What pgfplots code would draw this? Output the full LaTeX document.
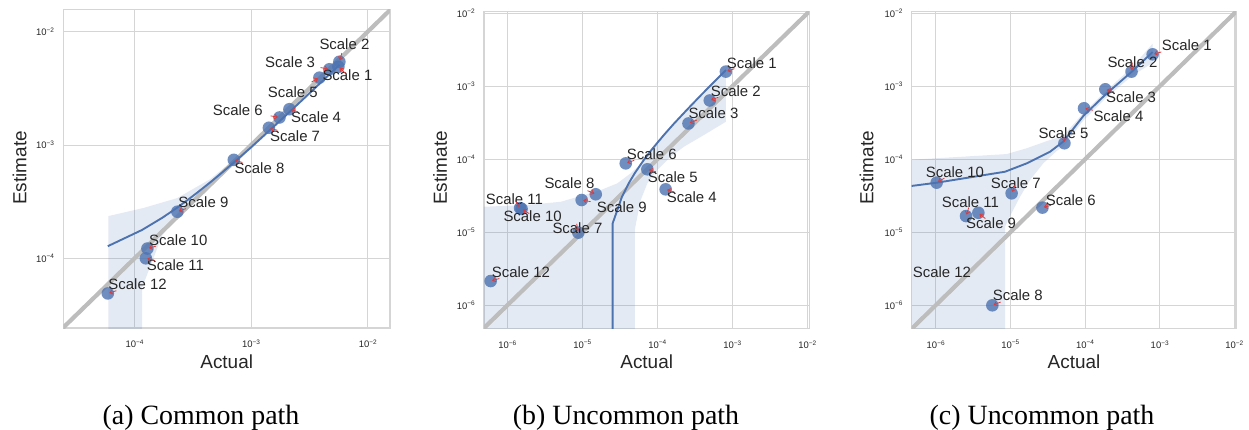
\documentclass[border=0pt]{standalone}
\usepackage{pgfplots}
\pgfplotsset{compat=1.18}
\usepackage{fontspec}
\setmainfont{Liberation Sans}
\newfontfamily\capfont{Liberation Serif}
\usetikzlibrary{calc,arrows.meta}

\definecolor{sbblue}{HTML}{4C72B0}
\definecolor{gridc}{HTML}{D5D5D5}
\definecolor{diagc}{HTML}{BDBDBD}
\definecolor{txtc}{HTML}{262626}
\definecolor{arrc}{HTML}{DD3B3B}

% tick label: 10 with a raised exponent, set as text in the sans font
\newcommand\tl[1]{\mbox{\fontsize{9.5}{9.5}\selectfont 10\raisebox{0.62ex}{\fontsize{6.5}{6.5}\selectfont −#1}}}

\pgfplotsset{
  every axis/.append style={
    xmode=log, ymode=log, scale only axis, anchor=south west,
    axis line style={draw=gridc, line width=1.2bp},
    grid=major, major grid style={draw=gridc, line width=1bp},
    major tick length=0pt, minor tick length=0pt,
    xticklabel style={anchor=north, inner sep=0pt, yshift=-12bp, text=txtc},
    yticklabel style={anchor=east, inner sep=0pt, xshift=-9bp, text=txtc},
  },
  sbband/.style={draw=none, fill=sbblue, fill opacity=0.15},
  sbdiag/.style={draw=diagc, line width=4.2bp, mark=none},
  sbdots/.style={only marks, mark=*, mark size=6.3bp, color=sbblue,
    mark options={fill=sbblue, draw opacity=0, fill opacity=0.8}},
  sbfit/.style={draw=sbblue, line width=1.9bp, mark=none},
}

\tikzset{
  lbl/.style={anchor=west, inner sep=0pt, text=txtc, font=\fontsize{15}{15}\selectfont},
  arrsty/.style={draw=arrc, line width=0.8bp, -{Straight Barb[length=2.8bp,width=4.4bp]}},
}
\newcommand\lab[4]{\node[lbl] (#1) at (#2,#3) {#4};}
\newcommand\arr[2]{\draw[arrsty] ($(#1)!9bp!(#2.center)$) -- ($(#1)!1.5bp!(#2.center)$);}

\begin{document}
\begin{tikzpicture}
\path[use as bounding box] (0,0) rectangle (1249bp,-430bp);

% ---------------- (a) Common path ----------------
\begin{axis}[at={(63.3bp,-328bp)}, width=326.7bp, height=318.5bp,
  xmin=2.449e-5, xmax=1.552e-2, ymin=2.427e-5, ymax=1.570e-2,
  xtick={1e-4,1e-3,1e-2}, ytick={1e-4,1e-3,1e-2},
  xticklabels={\tl{4},\tl{3},\tl{2}}, yticklabels={\tl{4},\tl{3},\tl{2}}]
\addplot[sbband] coordinates {
  (5.96e-5,2.36e-4) (1.19e-4,2.78e-4) (2.32e-4,3.40e-4) (4.46e-4,5.0e-4)
  (6.61e-4,6.95e-4) (1e-3,1.0e-3) (2e-3,1.9e-3) (4e-3,3.75e-3) (5.71e-3,5.4e-3)
  (5.71e-3,4.85e-3) (4e-3,3.47e-3) (2e-3,1.79e-3) (1e-3,9.25e-4) (6.61e-4,6.35e-4)
  (4.46e-4,4.4e-4) (3.0e-4,2.95e-4) (2.32e-4,2.3e-4) (1.73e-4,1.6e-4)
  (1.16e-4,5.5e-5) (1.16e-4,1e-6) (5.96e-5,1e-6)};
\addplot[sbdiag] coordinates {(1e-5,1e-5) (1e-1,1e-1)};
\addplot[sbdots] coordinates {
  (5.6e-3,4.9e-3) (5.71e-3,5.43e-3) (4.69e-3,4.66e-3) (2.13e-3,2.07e-3)
  (3.85e-3,3.93e-3) (1.75e-3,1.75e-3) (1.42e-3,1.42e-3) (7.1e-4,7.4e-4)
  (2.33e-4,2.58e-4) (1.29e-4,1.22e-4) (1.25e-4,1.0e-4) (5.9e-5,4.9e-5)};
\addplot[sbfit] coordinates {
  (5.9e-5,1.28e-4) (1.16e-4,1.78e-4) (1.73e-4,2.28e-4) (2.30e-4,2.78e-4)
  (2.87e-4,3.29e-4) (3.44e-4,3.79e-4) (4.58e-4,4.79e-4) (5.72e-4,5.79e-4)
  (7.43e-4,7.30e-4) (1.0e-3,9.56e-4) (1.5e-3,1.40e-3) (2.0e-3,1.84e-3)
  (3.0e-3,2.72e-3) (4.0e-3,3.60e-3) (5.71e-3,5.10e-3)};
\coordinate (a1) at (axis cs:5.6e-3,4.9e-3);
\coordinate (a2) at (axis cs:5.71e-3,5.43e-3);
\coordinate (a3) at (axis cs:4.69e-3,4.66e-3);
\coordinate (a4) at (axis cs:2.13e-3,2.07e-3);
\coordinate (a5) at (axis cs:3.85e-3,3.93e-3);
\coordinate (a6) at (axis cs:1.75e-3,1.75e-3);
\coordinate (a7) at (axis cs:1.42e-3,1.42e-3);
\coordinate (a8) at (axis cs:7.1e-4,7.4e-4);
\coordinate (a9) at (axis cs:2.33e-4,2.58e-4);
\coordinate (a10) at (axis cs:1.29e-4,1.22e-4);
\coordinate (a11) at (axis cs:1.25e-4,1.0e-4);
\coordinate (a12) at (axis cs:5.9e-5,4.9e-5);
\end{axis}

% ---------------- (b) Uncommon path ----------------
\begin{axis}[at={(484bp,-328.3bp)}, width=325.3bp, height=316.6bp,
  xmin=4.887e-7, xmax=1.062e-2, ymin=4.842e-7, ymax=1.052e-2,
  xtick={1e-6,1e-5,1e-4,1e-3,1e-2}, ytick={1e-6,1e-5,1e-4,1e-3,1e-2},
  xticklabels={\tl{6},\tl{5},\tl{4},\tl{3},\tl{2}},
  yticklabels={\tl{6},\tl{5},\tl{4},\tl{3},\tl{2}}]
\addplot[sbband] coordinates {
  (4.89e-7,2.24e-5) (1.85e-6,2.37e-5) (5.15e-6,2.62e-5) (1.05e-5,3.24e-5)
  (1.76e-5,3.79e-5) (2.93e-5,4.69e-5) (4.42e-5,6.43e-5) (6.01e-5,8.7e-5)
  (8.33e-5,1.32e-4) (1.25e-4,2.18e-4) (2.49e-4,4.75e-4) (4.97e-4,9.9e-4)
  (8.2e-4,1.66e-3)
  (8.2e-4,3.27e-4) (4.56e-4,2.27e-4) (2.27e-4,1.49e-4) (1.51e-4,1.09e-4)
  (1.0e-4,7.13e-5) (7.36e-5,4.69e-5) (6.01e-5,2.77e-5) (5.41e-5,1.64e-5)
  (5.0e-5,1.08e-5) (5.0e-5,1e-8) (4.0e-7,1e-8)};
\addplot[sbdiag] coordinates {(1e-7,1e-7) (1e-1,1e-1)};
\addplot[sbdots] coordinates {
  (8.2e-4,1.59e-3) (5.0e-4,6.4e-4) (2.6e-4,3.1e-4) (1.29e-4,3.88e-5)
  (7.36e-5,7.3e-5) (3.79e-5,8.8e-5) (8.85e-6,9.9e-6) (1.51e-5,3.32e-5)
  (9.8e-6,2.77e-5) (1.55e-6,2.1e-5) (1.48e-6,2.15e-5) (6.0e-7,2.15e-6)};
\addplot[sbfit] coordinates {
  (2.53e-5,1e-9) (2.54e-5,1.33e-5) (3.37e-5,3.06e-5) (4.19e-5,4.77e-5)
  (5.02e-5,6.50e-5) (6.67e-5,9.94e-5) (8.33e-5,1.34e-4) (9.98e-5,1.68e-4)
  (1.25e-4,2.21e-4) (1.66e-4,3.07e-4) (2.49e-4,4.79e-4) (3.73e-4,7.38e-4)
  (4.97e-4,9.96e-4) (6.62e-4,1.34e-3) (8.2e-4,1.67e-3)};
\coordinate (b1) at (axis cs:8.2e-4,1.59e-3);
\coordinate (b2) at (axis cs:5.0e-4,6.4e-4);
\coordinate (b3) at (axis cs:2.6e-4,3.1e-4);
\coordinate (b4) at (axis cs:1.29e-4,3.88e-5);
\coordinate (b5) at (axis cs:7.36e-5,7.3e-5);
\coordinate (b6) at (axis cs:3.79e-5,8.8e-5);
\coordinate (b7) at (axis cs:8.85e-6,9.9e-6);
\coordinate (b8) at (axis cs:1.51e-5,3.32e-5);
\coordinate (b9) at (axis cs:9.8e-6,2.77e-5);
\coordinate (b10) at (axis cs:1.55e-6,2.1e-5);
\coordinate (b11) at (axis cs:1.48e-6,2.15e-5);
\coordinate (b12) at (axis cs:6.0e-7,2.15e-6);
\end{axis}

% ---------------- (c) Uncommon path ----------------
\begin{axis}[at={(911.7bp,-328.3bp)}, width=324.3bp, height=316.6bp,
  xmin=4.775e-7, xmax=1.052e-2, ymin=4.842e-7, ymax=1.052e-2,
  xtick={1e-6,1e-5,1e-4,1e-3,1e-2}, ytick={1e-6,1e-5,1e-4,1e-3,1e-2},
  xticklabels={\tl{6},\tl{5},\tl{4},\tl{3},\tl{2}},
  yticklabels={\tl{6},\tl{5},\tl{4},\tl{3},\tl{2}}]
\addplot[sbband] coordinates {
  (4.0e-7,9.77e-5) (8.93e-6,1.18e-4) (1.66e-5,1.42e-4) (3.40e-5,1.84e-4)
  (5.12e-5,2.1e-4) (9.48e-5,4.3e-4) (1.85e-4,8.4e-4) (4.22e-4,1.8e-3)
  (8.05e-4,3.85e-3)
  (8.05e-4,2.1e-3) (4.22e-4,1.38e-3) (1.85e-4,6.7e-4) (9.48e-5,3.4e-4)
  (5.12e-5,1.5e-4) (4.17e-5,1.3e-4) (2.76e-5,8.81e-5) (1.83e-5,5.2e-5)
  (1.35e-5,3.07e-5) (1.09e-5,2.02e-5) (8.5e-6,1.2e-5) (8.5e-6,1e-8)
  (4.0e-7,1e-8)};
\addplot[sbdiag] coordinates {(1e-7,1e-7) (1e-1,1e-1)};
\addplot[sbdots] coordinates {
  (8.05e-4,2.74e-3) (4.2e-4,1.59e-3) (1.87e-4,9.1e-4) (9.7e-5,5.0e-4)
  (5.3e-5,1.66e-4) (2.69e-5,2.18e-5) (1.04e-5,3.42e-5) (5.74e-6,1.0e-6)
  (3.73e-6,1.85e-5) (1.03e-6,4.79e-5) (2.55e-6,1.67e-5)};
\addplot[sbfit] coordinates {
  (4.0e-7,4.22e-5) (1.03e-6,4.78e-5) (8.48e-6,6.76e-5) (1.66e-5,8.81e-5)
  (3.40e-5,1.27e-4) (5.12e-5,1.75e-4) (9.48e-5,3.92e-4) (1.85e-4,7.60e-4)
  (4.22e-4,1.585e-3) (8.05e-4,2.95e-3)};
\coordinate (c1) at (axis cs:8.05e-4,2.74e-3);
\coordinate (c2) at (axis cs:4.2e-4,1.59e-3);
\coordinate (c3) at (axis cs:1.87e-4,9.1e-4);
\coordinate (c4) at (axis cs:9.7e-5,5.0e-4);
\coordinate (c5) at (axis cs:5.3e-5,1.66e-4);
\coordinate (c6) at (axis cs:2.69e-5,2.18e-5);
\coordinate (c7) at (axis cs:1.04e-5,3.42e-5);
\coordinate (c8) at (axis cs:5.74e-6,1.0e-6);
\coordinate (c9) at (axis cs:3.73e-6,1.85e-5);
\coordinate (c10) at (axis cs:1.03e-6,4.79e-5);
\coordinate (c11) at (axis cs:2.55e-6,1.67e-5);
\end{axis}

% ---------------- point labels, axis titles, captions ----------------
\begin{scope}[x=1bp,y=-1bp]
\lab{la2}{319.3}{44}{Scale 2}
\lab{la3}{265}{61.7}{Scale 3}
\lab{la1}{322.3}{75}{Scale 1}
\lab{la5}{267.7}{92.3}{Scale 5}
\lab{la6}{212.7}{110}{Scale 6}
\lab{la4}{291}{117.3}{Scale 4}
\lab{la7}{270}{135.7}{Scale 7}
\lab{la8}{234.3}{167.7}{Scale 8}
\lab{la9}{178.3}{202.3}{Scale 9}
\lab{la10}{149}{240}{Scale 10}
\lab{la11}{146.7}{265.3}{Scale 11}
\lab{la12}{108.3}{284}{Scale 12}
\foreach \i in {1,...,12} {\arr{a\i}{la\i}}

\lab{lb1}{726.7}{62.7}{Scale 1}
\lab{lb2}{710.7}{90.7}{Scale 2}
\lab{lb3}{688.3}{113.3}{Scale 3}
\lab{lb6}{626.7}{154}{Scale 6}
\lab{lb5}{647.7}{176.7}{Scale 5}
\lab{lb4}{666.7}{197.3}{Scale 4}
\lab{lb8}{544.3}{182.7}{Scale 8}
\lab{lb9}{596.7}{207.3}{Scale 9}
\lab{lb11}{485.7}{199.3}{Scale 11}
\lab{lb10}{503.3}{215.7}{Scale 10}
\lab{lb7}{552.3}{227.7}{Scale 7}
\lab{lb12}{491.7}{272.3}{Scale 12}
\foreach \i in {1,...,12} {\arr{b\i}{lb\i}}

\lab{lc1}{1161.7}{45}{Scale 1}
\lab{lc2}{1107.3}{62.3}{Scale 2}
\lab{lc3}{1106}{97.3}{Scale 3}
\lab{lc4}{1093.3}{115.7}{Scale 4}
\lab{lc5}{1038.3}{133.3}{Scale 5}
\lab{lc10}{925.7}{172}{Scale 10}
\lab{lc7}{990.7}{182.7}{Scale 7}
\lab{lc6}{1045.7}{200}{Scale 6}
\lab{lc11}{941.7}{202.3}{Scale 11}
\lab{lc9}{966}{223.3}{Scale 9}
\lab{lc12}{912.7}{271.7}{Scale 12}
\lab{lc8}{992.7}{295.3}{Scale 8}
\foreach \i in {1,...,11} {\arr{c\i}{lc\i}}

\foreach \cx in {226.7,646.7,1074} {
  \node[text=txtc, font=\fontsize{19}{19}\selectfont, inner sep=0pt] at (\cx,361.7) {Actual};
}
\foreach \cx in {19.5,440,866.7} {
  \node[text=txtc, font=\fontsize{19}{19}\selectfont, inner sep=0pt, rotate=90] at (\cx,168) {Estimate};
}
\node[anchor=base, inner sep=0pt, font=\capfont\fontsize{28}{28}\selectfont] at (201,424) {(a) Common path};
\node[anchor=base, inner sep=0pt, font=\capfont\fontsize{28}{28}\selectfont] at (626,424) {(b) Uncommon path};
\node[anchor=base, inner sep=0pt, font=\capfont\fontsize{28}{28}\selectfont] at (1042,424) {(c) Uncommon path};
\end{scope}
\end{tikzpicture}
\end{document}
